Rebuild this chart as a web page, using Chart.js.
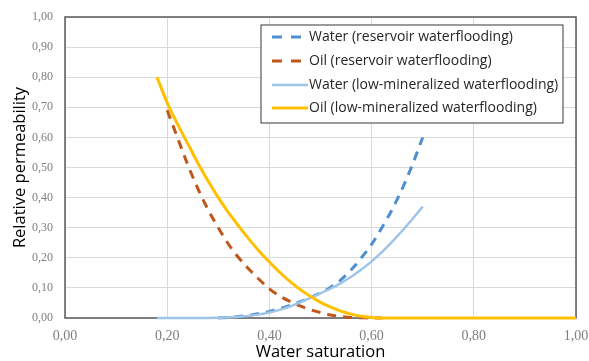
<!DOCTYPE html>
<html>
<head>
<meta charset="utf-8">
<script src="https://cdn.jsdelivr.net/npm/chart.js@4/dist/chart.umd.min.js"></script>
<style>
html,body{margin:0;padding:0;background:#fff;}
#wrap{width:589px;height:361px;position:relative;}
</style>
</head>
<body>
<div id="wrap"><canvas id="c" width="589" height="361"></canvas></div>
<script>
// ---- data ----
const seriesNames = [
  "Water (reservoir waterflooding)",
  "Oil (reservoir waterflooding)",
  "Water (low-mineralized waterflooding)",
  "Oil (low-mineralized waterflooding)"
];
const waterResX = [0.30,0.32,0.34,0.36,0.38,0.40,0.42,0.44,0.46,0.48,0.50,0.52,0.54,0.56,0.58,0.60,0.62,0.64,0.66,0.68,0.70];
const waterResY = [0.000,0.002,0.005,0.009,0.015,0.022,0.031,0.042,0.054,0.068,0.083,0.102,0.127,0.160,0.200,0.245,0.300,0.360,0.430,0.510,0.600];
const oilResX = [0.20,0.22,0.24,0.26,0.28,0.30,0.32,0.34,0.36,0.38,0.40,0.42,0.44,0.46,0.48,0.50,0.52,0.54,0.56,0.58,0.60,0.62];
const oilResY = [0.690,0.600,0.510,0.430,0.360,0.300,0.245,0.200,0.162,0.128,0.097,0.073,0.055,0.040,0.028,0.018,0.010,0.005,0.002,0.001,0.000,0.000];
const waterLowX = [0.18,0.22,0.26,0.30,0.34,0.38,0.40,0.42,0.44,0.46,0.48,0.50,0.52,0.54,0.56,0.58,0.60,0.62,0.64,0.66,0.68,0.70];
const waterLowY = [0.000,0.000,0.000,0.001,0.004,0.012,0.018,0.027,0.038,0.052,0.067,0.082,0.098,0.116,0.137,0.161,0.188,0.219,0.253,0.290,0.329,0.370];
const oilLowX = [0.18,0.20,0.22,0.24,0.26,0.28,0.30,0.32,0.34,0.36,0.38,0.40,0.42,0.44,0.46,0.48,0.50,0.52,0.54,0.56,0.58,0.60,0.62,0.70,0.80,0.90,1.00];
const oilLowY = [0.800,0.715,0.645,0.580,0.515,0.455,0.400,0.350,0.305,0.262,0.222,0.186,0.152,0.122,0.095,0.072,0.052,0.036,0.023,0.013,0.006,0.002,0.000,0.000,0.000,0.000,0.000];
const xTicks = [0,0.2,0.4,0.6,0.8,1.0];
const yTicks = [0,0.1,0.2,0.3,0.4,0.5,0.6,0.7,0.8,0.9,1.0];

const pts = (xs, ys) => xs.map((x, i) => ({x: x, y: ys[i]}));

const styles = [
  {color:'#4f8fcf', width:3, dash:[9,7]},
  {color:'#c0561a', width:3, dash:[9,7]},
  {color:'#9ec4e8', width:2.5, dash:[]},
  {color:'#ffc000', width:3, dash:[]}
];
const allX = [waterResX, oilResX, waterLowX, oilLowX];
const allY = [waterResY, oilResY, waterLowY, oilLowY];
const drawOrder = [3,2,1,0];

const datasets = seriesNames.map((n, i) => ({
  label: n,
  data: pts(allX[i], allY[i]),
  borderColor: styles[i].color,
  borderWidth: styles[i].width,
  borderDash: styles[i].dash,
  pointRadius: 0,
  fill: false,
  cubicInterpolationMode: 'monotone',
  clip: false,
  order: drawOrder[i]
}));

const fmt = v => v.toFixed(2).replace('.', ',');

const framePlugin = {
  id: 'frame',
  beforeDatasetsDraw(chart) {
    const a = chart.chartArea, ctx = chart.ctx;
    ctx.save();
    ctx.strokeStyle = '#595959';
    ctx.lineWidth = 1.5;
    ctx.strokeRect(a.left, a.top, a.right - a.left, a.bottom - a.top);
    ctx.restore();
  }
};

const legendPlugin = {
  id: 'boxLegend',
  afterDatasetsDraw(chart) {
    const ctx = chart.ctx;
    const bx = 261, by = 25, bw = 302, bh = 98;
    ctx.save();
    ctx.fillStyle = '#ffffff';
    ctx.fillRect(bx, by, bw, bh);
    ctx.strokeStyle = '#595959';
    ctx.lineWidth = 1.2;
    ctx.strokeRect(bx, by, bw, bh);
    const rows = [37, 61, 85, 108];
    ctx.font = '14px "Open Sans"';
    ctx.textBaseline = 'middle';
    seriesNames.forEach((n, i) => {
      ctx.beginPath();
      ctx.strokeStyle = styles[i].color;
      ctx.lineWidth = styles[i].width;
      ctx.setLineDash(styles[i].dash.length ? [10,9] : []);
      ctx.moveTo(272, rows[i]);
      ctx.lineTo(308, rows[i]);
      ctx.stroke();
      ctx.setLineDash([]);
      ctx.fillStyle = '#262626';
      ctx.fillText(n, 309, rows[i] + 0.5);
    });
    ctx.restore();
  }
};

new Chart(document.getElementById('c'), {
  type: 'line',
  data: { datasets: datasets },
  plugins: [framePlugin, legendPlugin],
  options: {
    responsive: false,
    animation: false,
    layout: { padding: { top: 17, right: 13, left: 0, bottom: 0 } },
    plugins: { legend: { display: false }, tooltip: { enabled: false } },
    scales: {
      x: {
        type: 'linear', min: 0, max: 1,
        afterFit(s) { s.height = 43; s.paddingRight = 0; s.paddingLeft = 0; },
        afterBuildTicks(s) { s.ticks = xTicks.map(v => ({value: v})); },
        grid: { color: '#d9d9d9', lineWidth: 1, drawTicks: false },
        border: { display: false },
        ticks: { padding: 10, color: '#7f7f7f', font: { family: '"Liberation Serif"', size: 14 }, callback: v => fmt(v) },
        title: { display: true, text: 'Water saturation', color: '#000', font: { family: '"Open Sans"', size: 16.5 }, padding: { top: 0, bottom: -1 } }
      },
      y: {
        type: 'linear', min: 0, max: 1,
        afterFit(s) { s.width = 65; s.paddingTop = 0; s.paddingBottom = 0; },
        afterBuildTicks(s) { s.ticks = yTicks.map(v => ({value: v})); },
        grid: { color: '#d9d9d9', lineWidth: 1, drawTicks: false },
        border: { display: false },
        ticks: { padding: 12, color: '#7f7f7f', font: { family: '"Liberation Serif"', size: 12 }, callback: v => fmt(v) },
        title: { display: true, text: 'Relative permeability', color: '#000', font: { family: '"Open Sans"', size: 16.5 }, padding: { top: 10, bottom: 0 } }
      }
    }
  }
});
</script>
</body>
</html>
